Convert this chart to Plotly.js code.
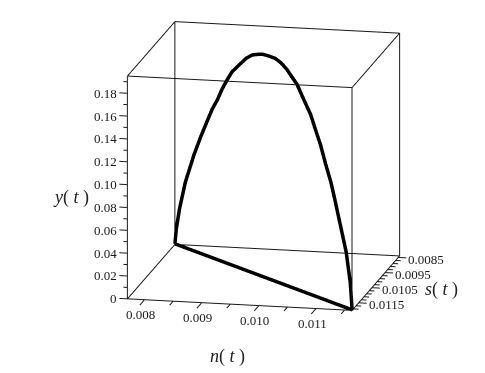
<!DOCTYPE html>
<html><head><meta charset="utf-8">
<script src="https://cdn.plot.ly/plotly-3.0.1.min.js"></script>
<style>html,body{margin:0;padding:0;background:#fff}#c{width:485px;height:373px}</style></head>
<body><div id="c"></div>
<script>
const nVals=[.0077,.00773,.0078,.00793,.00812,.00827,.00838,.00852,.00864,.00875,.00886,.00897,.00908,.00928,.00942,.00958,.00965,.00976,.00992,.01005,.01018,.01041,.01056,.01071,.01082,.01093,.01104,.01116,.01125,.01134,.01142,.0115,.01159,.01162,.01163,.0077];
const sVals=[.0084,.00843,.00849,.00861,.00878,.00892,.00902,.00915,.00926,.00936,.00946,.00957,.00967,.00985,.00998,.01012,.01019,.01029,.01043,.01055,.01068,.01088,.01102,.01115,.01126,.01136,.01146,.01157,.01165,.01173,.01181,.01188,.01196,.01199,.012,.0084];
const yVals=[.0005,.0139,.0325,.0578,.0844,.1024,.1146,.1299,.1403,.1517,.1612,.1699,.1757,.1861,.1912,.1941,.1951,.1955,.1955,.1935,.19,.1797,.1687,.1577,.1462,.1347,.1199,.1054,.091,.0756,.0628,.049,.0237,.007,.0005,.0005];
const nLim=[.0077,.01163], sLim=[.0084,.012], yLim=[0,.195];
const nMajor=[.008,.009,.01,.011], nMinor=[.0085,.0095,.0105,.0115];
const nText=['0.008','0.009','0.010','0.011'];
const sMajor=[.0085,.0095,.0105,.0115];
const sMinor=[.0087,.0089,.0091,.0093,.0097,.0099,.0101,.0103,.0107,.0109,.0111,.0113,.0117,.0119];
const sText=['0.0085','0.0095','0.0105','0.0115'];
const yMajor=[0,.02,.04,.06,.08,.1,.12,.14,.16,.18], yMinor=[.01,.03,.05,.07,.09,.11,.13,.15,.17,.19];
const yText=['0','0.02','0.04','0.06','0.08','0.10','0.12','0.14','0.16','0.18'];

const ink='#1a1a1a';
const [n0,n1]=nLim,[s0,s1]=sLim,[y0,y1]=yLim;
const bx=[],by=[],bz=[];
function seg(a,b){bx.push(a[0],b[0],null);by.push(a[1],b[1],null);bz.push(a[2],b[2],null);}
[y0,y1].forEach(h=>{seg([n0,s0,h],[n1,s0,h]);seg([n0,s1,h],[n1,s1,h]);seg([n0,s0,h],[n0,s1,h]);seg([n1,s0,h],[n1,s1,h]);});
[[n0,s0],[n1,s0],[n0,s1],[n1,s1]].forEach(p=>seg([p[0],p[1],y0],[p[0],p[1],y1]));
yMajor.forEach(v=>seg([n0,s1,v],[n0-.00014,s1,v]));
yMinor.forEach(v=>seg([n0,s1,v],[n0-.00007,s1,v]));
nMajor.forEach(v=>seg([v,s1,y0],[v,s1+.00052,y0]));
nMinor.forEach(v=>seg([v,s1,y0],[v,s1+.00026,y0]));
sMajor.forEach(v=>seg([n1,v,y0],[n1+.00014,v,y0]));
sMinor.forEach(v=>seg([n1,v,y0],[n1+.00009,v,y0]));

const tf={family:'Liberation Serif',size:13,color:ink};
const ann=[];
yMajor.forEach((v,i)=>ann.push({x:n0,y:s1,z:v,text:yText[i],showarrow:false,xanchor:'right',yanchor:'middle',xshift:-8,yshift:0,font:tf}));
nMajor.forEach((v,i)=>ann.push({x:v,y:s1,z:y0,text:nText[i],showarrow:false,xanchor:'center',yanchor:'middle',xshift:-4,yshift:-15,font:tf}));
sMajor.forEach((v,i)=>ann.push({x:n1,y:v,z:y0,text:sText[i],showarrow:false,xanchor:'left',yanchor:'middle',xshift:8,yshift:-2,font:tf}));

const titleFont={family:'Liberation Serif',size:18,color:'#222'};
const title=(t,x,y)=>({xref:'paper',yref:'paper',x:x/485,y:1-y/373,text:t,showarrow:false,xanchor:'center',yanchor:'middle',font:titleFont});
const hidden={visible:false,showspikes:false};
const pad=.1, zoom=1.66;
Plotly.newPlot('c',[
 {type:'scatter3d',mode:'lines',x:bx,y:by,z:bz,connectgaps:false,line:{color:ink,width:2},hoverinfo:'skip'},
 {type:'scatter3d',mode:'lines',x:nVals,y:sVals,z:yVals,line:{color:'#000',width:7},hoverinfo:'skip'}
],{
 width:485,height:373,showlegend:false,paper_bgcolor:'#fff',margin:{l:0,r:0,t:0,b:0},
 annotations:[title('<i>y</i>( <i>t</i> )',71,197),title('<i>n</i>( <i>t</i> )',227,356),title('<i>s</i>( <i>t</i> )',441,289)],
 scene:{domain:{x:[0.0866,1],y:[0.11,1]},aspectmode:'manual',aspectratio:{x:zoom,y:zoom,z:zoom},
  camera:{projection:{type:'orthographic'},eye:{x:0.2009*2,y:-0.9491*2,z:0.2424*2},up:{x:0,y:0,z:1},center:{x:0,y:0,z:0}},
  xaxis:{...hidden,range:[n0-pad*(n1-n0),n1+pad*(n1-n0)]},
  yaxis:{...hidden,range:[s1+pad*(s1-s0),s0-pad*(s1-s0)]},
  zaxis:{...hidden,range:[y0-pad*(y1-y0),y1+pad*(y1-y0)]},
  annotations:ann
 }},{displayModeBar:false});
</script></body></html>
